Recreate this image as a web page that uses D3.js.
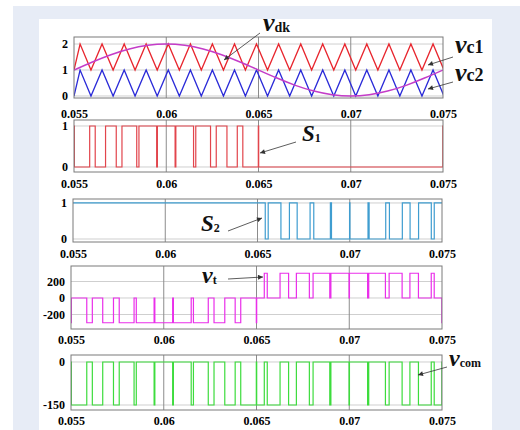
<!DOCTYPE html>
<html><head><meta charset="utf-8">
<script src="https://cdn.jsdelivr.net/npm/d3@7"></script>
<style>body{margin:0;background:#fff}svg{display:block}</style>
</head><body><svg id="c" width="520" height="430"></svg>
<script>
// ---------- data ----------
const xTicks = [0.055, 0.06, 0.065, 0.07, 0.075];
const xTickLabels = ["0.055", "0.06", "0.065", "0.07", "0.075"];

// carrier vertices (time) and vc1 level at each vertex; vc2 = vc1 - 1
const carrierT = [0.05500,0.05533,0.05592,0.05652,0.05712,0.05772,0.05831,0.05891,0.05951,0.06011,
  0.06071,0.06131,0.06190,0.06250,0.06310,0.06370,0.06429,0.06489,0.06549,0.06609,0.06669,0.06729,
  0.06788,0.06848,0.06908,0.06968,0.07027,0.07087,0.07147,0.07207,0.07266,0.07326,0.07386,0.07446,0.07505];
const vc1Level = [1,2,1,2,1,2,1,2,1,2,1,2,1,2,1,2,1,2,1,2,1,2,1,2,1,2,1,2,1,2,1,2,1,2,1];
const vc2Level = [0,1,0,1,0,1,0,1,0,1,0,1,0,1,0,1,0,1,0,1,0,1,0,1,0,1,0,1,0,1,0,1,0,1,0];

// modulating wave v_dk
const vdkT = [0.055,0.056,0.057,0.058,0.059,0.060,0.061,0.062,0.063,0.064,0.065,
  0.066,0.067,0.068,0.069,0.070,0.071,0.072,0.073,0.074,0.075];
const vdkV = [1.00,1.31,1.59,1.81,1.95,2.00,1.95,1.81,1.59,1.31,1.00,
  0.69,0.41,0.19,0.05,0.00,0.05,0.19,0.41,0.69,1.00];

// S1 = 1 intervals
const s1High = [[0.05500,0.05502],[0.05585,0.05615],[0.05671,0.05729],[0.05760,0.05840],[0.05852,0.05948],
  [0.05952,0.06048],[0.06052,0.06148],[0.06160,0.06240],[0.06271,0.06329],[0.06385,0.06415],
  [0.06499,0.06501],[0.07499,0.07500]];
// S2 = 0 intervals (S2 = 1 otherwise)
const s2Low = [[0.06542,0.06558],[0.06627,0.06673],[0.06715,0.06785],[0.06805,0.06895],[0.06901,0.06999],
  [0.07001,0.07099],[0.07105,0.07195],[0.07215,0.07285],[0.07327,0.07373],[0.07442,0.07458]];

const vtLevels = [-300, 0, 300];
const vcomLevels = [-150, 0];

const ytP1 = [0, 1, 2], ytP2 = [0, 1], ytP3 = [0, 1], ytP4 = [-200, 0, 200], ytP5 = [-150, 0];

// ---------- drawing ----------
const svg = d3.select("#c");
svg.append("rect").attr("width",520).attr("height",430).attr("fill","#fff");
svg.append("rect").attr("x",13).attr("y",6).attr("width",507).attr("height",424).attr("fill","#e7ecf6");
svg.append("rect").attr("x",39).attr("y",19).attr("width",453).attr("height",411).attr("fill","#fff");

const defs = svg.append("defs");
defs.append("marker").attr("id","ah").attr("viewBox","0 0 10 10").attr("refX",10).attr("refY",5)
  .attr("markerUnits","userSpaceOnUse").attr("markerWidth",7).attr("markerHeight",5).attr("orient","auto")
  .append("path").attr("d","M0,0L10,5L0,10z").attr("fill","#333");

const FONT = "'Liberation Serif','Times New Roman',serif";

function makePanel(id, cfg) {
  const x = d3.scaleLinear().domain([0.055, 0.075]).range([cfg.x0, cfg.x1]);
  const y = d3.scaleLinear().domain(cfg.yd).range([cfg.y1, cfg.y0]);
  const g = svg.append("g");
  g.selectAll("line.hg").data(cfg.yt).join("line").attr("class","hg")
    .attr("x1",cfg.x0).attr("x2",cfg.x1).attr("y1",d=>y(d)).attr("y2",d=>y(d))
    .attr("stroke","#cfcfcf").attr("stroke-width",1);
  g.selectAll("line.vg").data(xTicks.slice(1,-1)).join("line").attr("class","vg")
    .attr("x1",d=>x(d)).attr("x2",d=>x(d)).attr("y1",cfg.y0).attr("y2",cfg.y1)
    .attr("stroke","#8c8c8c").attr("stroke-width",1);
  defs.append("clipPath").attr("id","cl"+id).append("rect")
    .attr("x",cfg.x0).attr("y",cfg.y0).attr("width",cfg.x1-cfg.x0).attr("height",cfg.y1-cfg.y0);
  const plot = g.append("g").attr("clip-path","url(#cl"+id+")");
  g.append("rect").attr("x",cfg.x0).attr("y",cfg.y0).attr("width",cfg.x1-cfg.x0).attr("height",cfg.y1-cfg.y0)
    .attr("fill","none").attr("stroke","#7a7a7a").attr("stroke-width",1);
  const ax = g.append("g").attr("transform",`translate(0,${cfg.ly-5})`)
    .call(d3.axisBottom(x).tickValues(xTicks).tickFormat((d,i)=>xTickLabels[i]).tickSize(0).tickPadding(0));
  ax.select(".domain").remove();
  ax.attr("font-family",FONT).attr("font-size",12).attr("font-weight","bold");
  const ay = g.append("g").attr("transform",`translate(${cfg.x0},0)`)
    .call(d3.axisLeft(y).tickValues(cfg.yt).tickFormat(d3.format("d")).tickSize(0).tickPadding(6));
  ay.select(".domain").remove();
  ay.attr("font-family",FONT).attr("font-size",12).attr("font-weight","bold");
  ay.selectAll("text").text(d=>d<0?"-"+Math.abs(d):d);
  return {x, y, plot};
}

function stepSeries(pulses, base, t0, t1) {
  // pulses: [a, b, level]
  const pts = [[t0, base]];
  pulses.forEach(([a,b,v]) => { pts.push([a,base],[a,v],[b,v],[b,base]); });
  pts.push([t1, base]);
  return pts;
}

// Panel 1
const p1 = makePanel(1,{x0:74,x1:443,y0:37,y1:98,yd:[-0.077,2.27],yt:ytP1,ly:114});
const lineP1 = d3.line().x(d=>p1.x(d[0])).y(d=>p1.y(d[1]));
p1.plot.append("path").datum(carrierT.map((t,i)=>[t,vc2Level[i]])).attr("d",lineP1)
  .attr("fill","none").attr("stroke","#2b2bd8").attr("stroke-width",1.3);
p1.plot.append("path").datum(carrierT.map((t,i)=>[t,vc1Level[i]])).attr("d",lineP1)
  .attr("fill","none").attr("stroke","#e8262e").attr("stroke-width",1.3);
p1.plot.append("path").datum(vdkT.map((t,i)=>[t,vdkV[i]])).attr("d",lineP1.curve(d3.curveNatural))
  .attr("fill","none").attr("stroke","#c43cc8").attr("stroke-width",1.5);

// Panel 2: S1
const p2 = makePanel(2,{x0:74,x1:443,y0:120,y1:172,yd:[-0.122,1.146],yt:ytP2,ly:184});
p2.plot.append("path").datum(stepSeries(s1High.map(([a,b])=>[a,b,1]),0,0.055,0.075))
  .attr("d",d3.line().x(d=>p2.x(d[0])).y(d=>p2.y(d[1])))
  .attr("fill","none").attr("stroke","#e2454c").attr("stroke-width",1.2);

// Panel 3: S2
const p3 = makePanel(3,{x0:73,x1:442,y0:199,y1:242,yd:[-0.083,1.11],yt:ytP3,ly:254});
p3.plot.append("path").datum(stepSeries(s2Low.map(([a,b])=>[a,b,0]),1,0.055,0.075))
  .attr("d",d3.line().x(d=>p3.x(d[0])).y(d=>p3.y(d[1])))
  .attr("fill","none").attr("stroke","#3f9dd0").attr("stroke-width",1.2);

// Panel 4: vt
const vtPulses = s1High.map(([a,b])=>[a,b,vtLevels[0]]).concat(s2Low.map(([a,b])=>[a,b,vtLevels[2]]))
  .sort((p,q)=>p[0]-q[0]);
const p4 = makePanel(4,{x0:71,x1:442,y0:266,y1:329,yd:[-376,388],yt:ytP4,ly:340});
p4.plot.append("path").datum(stepSeries(vtPulses,vtLevels[1],0.055,0.075))
  .attr("d",d3.line().x(d=>p4.x(d[0])).y(d=>p4.y(d[1])))
  .attr("fill","none").attr("stroke","#ea2fea").attr("stroke-width",1.2);

// Panel 5: vcom
const p5 = makePanel(5,{x0:71,x1:442,y0:355,y1:410,yd:[-167.4,24.4],yt:ytP5,ly:421});
p5.plot.append("path").datum(stepSeries(vtPulses.map(([a,b])=>[a,b,vcomLevels[1]]),vcomLevels[0],0.055,0.075))
  .attr("d",d3.line().x(d=>p5.x(d[0])).y(d=>p5.y(d[1])))
  .attr("fill","none").attr("stroke","#3ddc3d").attr("stroke-width",1.2);

// ---------- annotations ----------
function label(x, y, main, sub, mainSize, subSize, subDy) {
  const t = svg.append("text").attr("x",x).attr("y",y).attr("font-family",FONT).attr("font-weight","bold").attr("fill","#111");
  t.append("tspan").attr("font-style","italic").attr("font-size",mainSize).text(main);
  t.append("tspan").attr("font-size",subSize).attr("dy",subDy).text(sub);
}
function arrow(x1,y1,x2,y2){
  svg.append("line").attr("x1",x1).attr("y1",y1).attr("x2",x2).attr("y2",y2)
    .attr("stroke","#333").attr("stroke-width",0.8).attr("marker-end","url(#ah)");
}
label(263,31,"v","dk",26,14,1);
arrow(260,33,224,60);
label(455,53,"v","c1",26,18,0);
arrow(453,57,428,65);
label(455,81,"v","c2",26,18,0);
arrow(453,82,428,89);
label(302,141,"S","1",23,12,1);
arrow(296,142,260,153);
label(201,231,"S","2",23,12,1);
arrow(228,231,262,218);
label(202,283,"v","t",24,12,1);
arrow(228,279,263,277);
label(449,366,"v","com",24,12,1);
arrow(447,367,418,375);
</script>
</body></html>
